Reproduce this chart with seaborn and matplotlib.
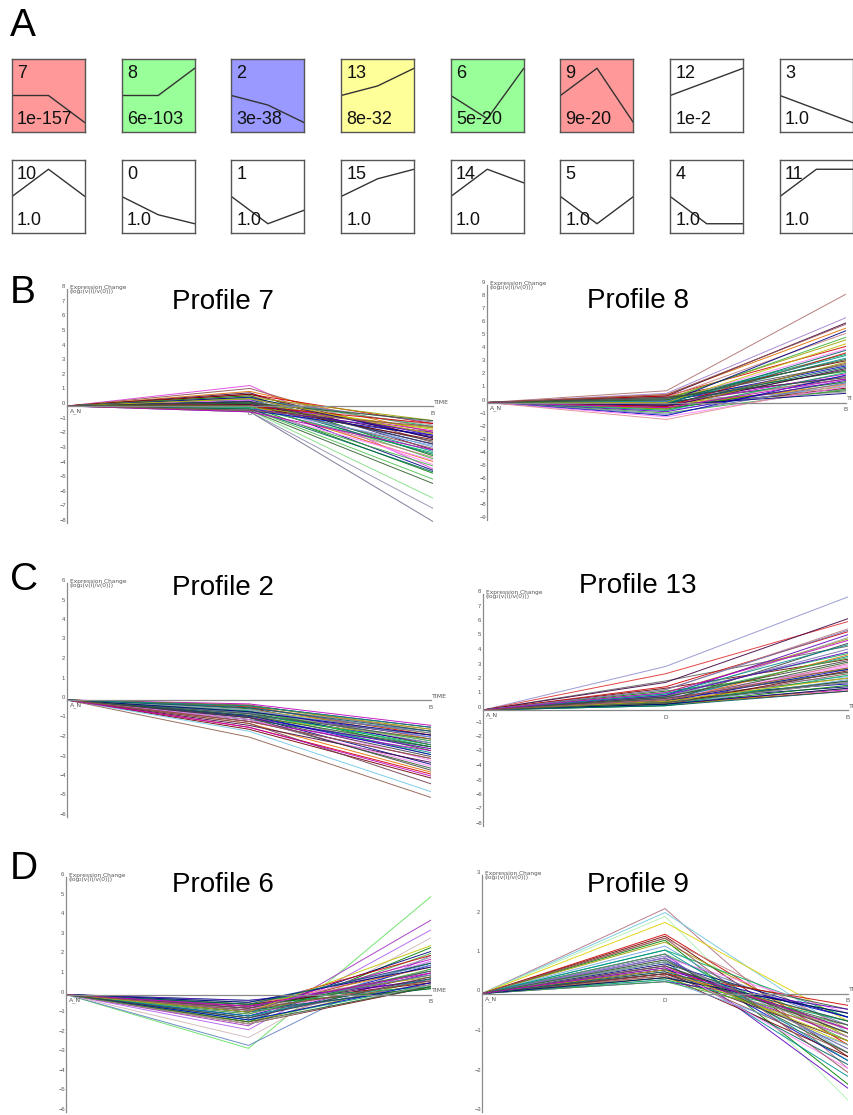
import matplotlib
matplotlib.use("Agg")
import matplotlib.pyplot as plt
import seaborn as sns
import pandas as pd

# ---- panel A: model profiles ----
profile_ids = ["7", "8", "2", "13", "6", "9", "12", "3",
               "10", "0", "1", "15", "14", "5", "4", "11"]
profile_pvals = ["1e-157", "6e-103", "3e-38", "8e-32", "5e-20", "9e-20", "1e-2", "1.0",
                 "1.0", "1.0", "1.0", "1.0", "1.0", "1.0", "1.0", "1.0"]
profile_shapes = [
    [0, 0, -1], [0, 0, 1], [0, -0.35, -1], [0, 0.35, 1],
    [0, -0.85, 1], [0, 1, -1], [0, 0.5, 1], [0, -0.5, -1],
    [0, 1, 0], [0, -0.67, -1], [0, -1, -0.5], [0, 0.65, 1],
    [0, 1, 0.5], [0, -1, 0], [0, -1, -1], [0, 1, 1],
]
box_fill = ["#ff9999", "#99ff99", "#9999ff", "#ffff99", "#99ff99", "#ff9999"] + ["white"] * 10

# ---- panels B-D: gene expression per profile (A_N = 0, then D, B) ----
time_labels = ["A_N", "D", "B"]

p7_d = [1.4, 1.2, 1.0, 0.9, 0.8, 0.8, 0.7, 0.7, 0.6, 0.6, 0.5, 0.5, 0.5, 0.4, 0.4, 0.4, 0.3, 0.3, 0.3, 0.3,
        0.2, 0.2, 0.2, 0.2, 0.1, 0.1, 0.1, 0.1, 0.0, 0.0, 0.0, 0.0, -0.1, -0.1, -0.1, -0.2, -0.2, -0.2, -0.3, -0.3,
        -0.3, -0.4, -0.4, 0.6, 0.5, 0.3, -0.2, -0.3, -0.4, -0.3]
p7_b = [-4.3, -2.5, -1.8, -3.0, -1.2, -2.2, -1.5, -3.4, -1.0, -2.8, -1.4, -2.0, -3.6, -1.1, -2.6, -4.0, -1.3, -1.9, -3.1, -4.4,
        -1.6, -2.4, -3.3, -1.0, -1.7, -2.9, -3.8, -2.1, -1.2, -2.3, -3.5, -4.6, -1.5, -2.7, -3.2, -1.8, -4.1, -5.0, -2.0, -3.7,
        -6.3, -7.0, -7.9, -2.2, -1.9, -2.6, -4.5, -5.3, -3.0, -1.4]

p8_d = [0.9, 0.7, 0.6, 0.5, 0.5, 0.4, 0.4, 0.3, 0.3, 0.3, 0.2, 0.2, 0.2, 0.1, 0.1, 0.1, 0.0, 0.0, 0.0, 0.0,
        -0.1, -0.1, -0.1, -0.2, -0.2, -0.2, -0.3, -0.3, -0.3, -0.4, -0.4, -0.5, -0.5, -0.6, -0.6, -0.7, -0.8, -0.9, -1.0, -1.1,
        -1.3, 0.3, 0.1, -0.2, 0.0, 0.4, -0.1, 0.2, -0.4, 0.6]
p8_b = [8.3, 6.5, 5.7, 6.1, 4.3, 3.2, 5.3, 2.4, 4.8, 1.5, 3.7, 2.0, 5.0, 1.0, 2.8, 4.1, 0.8, 1.8, 3.4, 5.5,
        1.2, 2.5, 4.0, 0.9, 2.2, 3.0, 1.4, 2.6, 3.8, 1.1, 2.0, 1.6, 3.1, 1.3, 2.3, 1.7, 1.0, 1.5, 2.1, 1.2,
        1.4, 2.9, 3.6, 0.7, 4.5, 1.9, 2.7, 3.3, 1.8, 6.0]

p2_d = [-0.2, -0.25, -0.3, -0.3, -0.35, -0.4, -0.4, -0.45, -0.5, -0.5, -0.55, -0.6, -0.6, -0.65, -0.7, -0.7, -0.75, -0.8,
        -0.8, -0.85, -0.9, -0.9, -1.0, -1.0, -1.1, -1.1, -1.2, -1.3, -1.4, -1.5, -1.6, -1.9, -0.3, -0.5, -0.7, -0.9,
        -0.6, -0.4, -0.8, -1.0, -0.5, -0.7, -0.3, -0.6, -1.2, -0.9, -0.4, -0.8, -1.4, -1.1]
p2_b = [-1.3, -1.6, -2.0, -1.4, -1.8, -2.3, -1.5, -2.6, -1.7, -2.1, -2.4, -1.9, -2.8, -1.6, -2.2, -3.1, -2.5, -1.8,
        -2.7, -3.3, -2.0, -2.9, -2.4, -3.5, -2.6, -3.0, -3.7, -3.2, -3.8, -4.0, -4.7, -5.0, -1.5, -1.9, -2.3, -2.5,
        -2.1, -1.7, -2.8, -3.4, -2.2, -2.0, -1.4, -1.8, -4.3, -3.6, -1.6, -2.4, -3.9, -3.0]

p13_d = [3.0, 2.5, 2.0, 1.9, 1.6, 1.5, 1.4, 1.3, 1.2, 1.2, 1.1, 1.0, 1.0, 0.9, 0.9, 0.8, 0.8, 0.8, 0.7, 0.7,
         0.7, 0.6, 0.6, 0.6, 0.5, 0.5, 0.5, 0.5, 0.4, 0.4, 0.4, 0.4, 0.3, 0.3, 0.3, 1.0, 0.9, 1.4, 0.6, 0.7,
         0.5, 0.8, 1.1, 0.4, 0.6, 0.9, 0.3, 0.5, 1.2, 0.7]
p13_b = [7.8, 6.1, 4.4, 6.3, 5.4, 3.5, 5.6, 2.8, 4.9, 2.3, 3.9, 5.2, 2.6, 4.2, 1.8, 3.1, 5.0, 2.2, 3.7, 1.6,
         2.9, 4.6, 2.0, 3.3, 1.4, 2.5, 3.8, 1.9, 1.3, 2.7, 3.2, 1.7, 1.5, 2.1, 2.4, 4.0, 3.6, 5.5, 2.8, 3.0,
         1.9, 2.6, 4.5, 1.5, 2.2, 3.4, 1.3, 2.0, 4.8, 2.9]

p6_d = [-2.75, -2.6, -2.2, -1.8, -1.6, -1.5, -1.5, -1.4, -1.4, -1.3, -1.3, -1.2, -1.2, -1.1, -1.1, -1.0, -1.0, -0.9,
        -0.9, -0.9, -0.8, -0.8, -0.8, -0.7, -0.7, -0.7, -0.6, -0.6, -0.6, -0.5, -0.5, -0.5, -0.4, -0.4, -0.3, -0.3,
        -1.0, -0.6, -1.3, -0.8, -1.5, -0.7, -1.1, -0.4, -0.9, -1.2, -0.5, -1.4, -0.6, -0.8]
p6_b = [5.0, 2.0, 2.9, 3.3, 3.8, 0.4, 1.3, 2.4, 0.8, 1.7, 0.5, 1.1, 2.1, 0.6, 1.5, 0.9, 1.9, 0.4,
        1.2, 2.2, 0.7, 1.6, 0.3, 1.0, 1.8, 0.5, 1.4, 0.8, 2.0, 0.6, 1.1, 0.3, 0.9, 1.5, 0.4, 0.7,
        1.3, 1.0, 0.6, 1.7, 0.5, 1.2, 0.8, 1.4, 2.5, 0.9, 1.6, 0.4, 1.1, 0.7]

p9_d = [2.15, 2.05, 1.95, 1.8, 1.5, 1.45, 1.4, 1.35, 1.3, 1.2, 1.1, 1.0, 1.0, 0.95, 0.9, 0.9, 0.85, 0.8, 0.8, 0.75,
        0.7, 0.7, 0.65, 0.6, 0.6, 0.55, 0.5, 0.5, 0.5, 0.45, 0.45, 0.4, 0.4, 0.35, 0.35, 0.3, 0.3, 0.9, 0.6, 0.7,
        0.8, 0.5, 1.1, 0.4, 0.6, 0.7, 0.55, 0.85, 0.65, 1.4]
p9_b = [-1.9, -1.0, -2.7, -0.7, -1.3, -1.6, -0.9, -2.3, -1.1, -1.5, -0.6, -2.4, -1.2, -0.8, -1.7, -0.5, -1.4, -1.0, -2.1, -0.6,
        -1.3, -0.9, -1.8, -0.4, -1.1, -1.5, -0.7, -1.2, -0.3, -1.6, -0.9, -0.5, -1.0, -1.3, -0.7, -0.4, -0.8, -1.4, -0.6, -1.9,
        -1.1, -0.8, -1.7, -0.5, -1.2, -1.0, -0.7, -1.5, -0.9, -2.0]

line_colors = ["#c000c0", "#008000", "#0000c0", "#404040", "#d00000", "#6000c0", "#009090", "#905050",
               "#a0a000", "#ff80ff", "#006060", "#700000", "#40b040", "#000080", "#e07000", "#70a0e0",
               "#a0a0a0", "#306030", "#c08080", "#7070b0", "#c0c000", "#400040", "#00b060", "#505050"]

# colours of the outlying lines, by gene index
p7_hi = {0: "#e040e0", 37: "#50c050", 40: "#80e080", 41: "#9090b0", 42: "#707090"}
p8_hi = {0: "#b07070", 1: "#a080d0", 40: "#e09090"}
p2_hi = {30: "#70c8e8", 31: "#906050", 44: "#704050"}
p13_hi = {0: "#9090d0", 1: "#e03030", 2: "#606060"}
p6_hi = {0: "#60e060", 1: "#6080c0", 2: "#d0b8b8", 3: "#b060f0", 4: "#a030c0"}
p9_hi = {0: "#b07080", 1: "#70c8e0", 2: "#b0f0b0", 3: "#e0d000"}

sns.set_style("white")
plt.rcParams["font.family"] = ["Liberation Sans", "DejaVu Sans"]

W, H = 854, 1115
fig = plt.figure(figsize=(W / 100, H / 100), dpi=100)


def px_axes(x0, y0, x1, y1):
    return fig.add_axes([x0 / W, 1 - y1 / H, (x1 - x0) / W, (y1 - y0) / H])


def fig_text(x, y, s, **kw):
    fig.text(x / W, 1 - y / H, s, **kw)


# panel letters
for letter, ly in zip("ABCD", [26, 293, 580, 869]):
    fig_text(10, ly, letter, fontsize=28, va="center", ha="left", color="black")

# ---- panel A ----
for i, (pid, pval, shape, fill) in enumerate(zip(profile_ids, profile_pvals, profile_shapes, box_fill)):
    row, col = divmod(i, 8)
    x0 = 12 + col * 109.7
    y0 = 59 + row * 101
    ax = px_axes(x0, y0, x0 + 73, y0 + 73)
    ax.set_facecolor(fill)
    box_df = pd.DataFrame({"t": [0, 1, 2], "v": shape})
    sns.lineplot(data=box_df, x="t", y="v", color="#333333", lw=1.0, ax=ax)
    ax.set_xlim(0, 2)
    ax.set_ylim(-1.34, 1.34)
    ax.set_xticks([])
    ax.set_yticks([])
    ax.set_xlabel("")
    ax.set_ylabel("")
    for sp in ax.spines.values():
        sp.set_color("#555555")
        sp.set_linewidth(1.0)
    ax.text(0.07, 0.92, pid, transform=ax.transAxes, fontsize=13, va="top", ha="left", color="#111111")
    ax.text(0.07, 0.06, pval, transform=ax.transAxes, fontsize=13, va="bottom", ha="left", color="#111111")

# ---- panels B-D ----
panels = [
    ("Profile 7", p7_d, p7_b, p7_hi, 8, (67, 289, 433, 523), (223, 302), True, "TIME"),
    ("Profile 8", p8_d, p8_b, p8_hi, 9, (487, 285, 846, 520), (638, 301), True, "TI"),
    ("Profile 2", p2_d, p2_b, p2_hi, 6, (67, 583, 431, 817), (223, 588), False, "TIME"),
    ("Profile 13", p13_d, p13_b, p13_hi, 8, (483, 594, 848, 826), (638, 586), True, "TI"),
    ("Profile 6", p6_d, p6_b, p6_hi, 6, (66, 877, 431, 1112), (223, 885), False, "TIME"),
    ("Profile 9", p9_d, p9_b, p9_hi, 3, (482, 875, 848, 1112), (638, 885), True, "TI"),
]

grey = "#8a8a8a"
for title, d_vals, b_vals, hi, ymax, (x0, y0, x1, y1), (tx, ty), show_d, time_txt in panels:
    ax = px_axes(x0, y0, x1, y1)
    rows = []
    for g, (dv, bv) in enumerate(zip(d_vals, b_vals)):
        for t, v in enumerate([0.0, dv, bv]):
            rows.append({"gene": f"g{g}", "t": t, "v": v})
    df = pd.DataFrame(rows)
    pal = {f"g{g}": hi.get(g, line_colors[(g * 7) % len(line_colors)]) for g in range(len(d_vals))}
    sns.lineplot(data=df, x="t", y="v", hue="gene", palette=pal, legend=False,
                 estimator=None, sort=False, lw=0.7, alpha=0.9, ax=ax)
    ax.set_xlim(0, 2)
    ax.set_ylim(-ymax, ymax)
    ax.set_facecolor("none")
    ax.set_xlabel("")
    ax.set_ylabel("")
    for side in ["top", "right"]:
        ax.spines[side].set_visible(False)
    ax.spines["left"].set_color(grey)
    ax.spines["left"].set_linewidth(0.9)
    ax.spines["bottom"].set_position(("data", 0))
    ax.spines["bottom"].set_color(grey)
    ax.spines["bottom"].set_linewidth(0.9)
    ax.set_yticks(list(range(-ymax, ymax + 1)))
    ax.tick_params(axis="y", direction="out", length=5, width=0.7, color=grey,
                   labelsize=4.2, labelcolor="#555555", pad=-2.5)
    for lab in ax.get_yticklabels():
        lab.set_va("bottom")
        lab.set_ha("center")
    ax.set_xticks([1, 2])
    ax.set_xticklabels(["D" if show_d else "", "B"])
    ax.tick_params(axis="x", direction="inout", length=7, width=0.7, color=grey,
                   labelsize=4.5, labelcolor="#555555", pad=0)
    ax.annotate("A_N", xy=(0, 0), xytext=(2, -2), textcoords="offset points",
                fontsize=4.5, color="#555555", va="top", ha="left", family="DejaVu Sans")
    ax.annotate(time_txt, xy=(2, 0), xytext=(1, 1), textcoords="offset points",
                fontsize=4.5, color="#555555", va="bottom", ha="left", annotation_clip=False,
                family="DejaVu Sans")
    ax.annotate("Expression Change\n(log\u2082(v(i)/v(0)))", xy=(0, ymax), xytext=(2, 3),
                textcoords="offset points", fontsize=4.2, color="#555555", va="top", ha="left",
                linespacing=0.9, family="DejaVu Sans")
    fig_text(tx, ty, title, fontsize=20, ha="center", va="center", color="black")

fig.savefig("out.png", dpi=100, facecolor="white")
